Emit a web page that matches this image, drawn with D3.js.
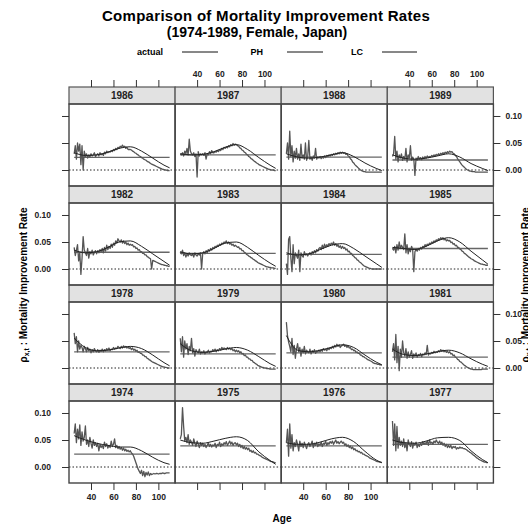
<!DOCTYPE html>
<html><head><meta charset="utf-8">
<script src="https://cdn.jsdelivr.net/npm/d3@7"></script>
<style>
body{margin:0;background:#fff;}
svg{display:block;font-family:"Liberation Sans",Arial,sans-serif;}
</style></head>
<body>
<svg id="c" width="528" height="530"></svg>
<script>
// ---------- DATA ----------
const years = [1974,1975,1976,1977,1978,1979,1980,1981,1982,1983,1984,1985,1986,1987,1988,1989];
const ages = d3.range(25, 111); // ages 25..110
const ageTicks = [40, 60, 80, 100];
const rateTicks = [0.00, 0.05, 0.10];
const rateTickLabels = ["0.00", "0.05", "0.10"];
// PH: constant improvement rate per year
const ph = [0.024,0.039,0.039,0.042, 0.030,0.026,0.028,0.020, 0.031,0.029,0.027,0.038, 0.0235,0.028,0.024,0.0185];
// LC: improvement rate at knot ages (per mille)
const lcAges = [25,35,45,55,65,75,85,95,105,110];
const lc1974 = [58,50,44,40,37,37,30,18,8,5];
const lc1975 = [50,45,44,48,53,56,49,28,12,5];
const lc1976 = [45,42,42,46,52,55,47,29,13,8];
const lc1977 = [50,45,44,48,54,55,49,30,14,8];
const lc1978 = [55,38,32,33,37,40,36,24,10,4];
const lc1979 = [45,32,29,31,35,38,33,21,8,3];
const lc1980 = [60,33,30,33,38,43,38,24,11,6];
const lc1981 = [35,25,23,26,30,33,28,17,7,3];
const lc1982 = [35,30,32,40,50,52,42,28,14,7];
const lc1983 = [32,28,30,38,48,50,40,25,11,5];
const lc1984 = [30,26,28,36,44,47,38,24,10,3];
const lc1985 = [40,38,36,42,52,58,50,33,17,9];
const lc1986 = [32,27,28,33,40,43,35,22,9,4];
const lc1987 = [30,28,29,34,42,47,38,23,9,3];
const lc1988 = [30,24,22,24,28,32,25,13,3,-1];
const lc1989 = [28,22,20,22,26,30,24,12,3,-1];
// actual improvement rates, ages 25..110 (per mille)
const actual1974 = [62,80,45,70,52,78,40,65,48,55, 76,42,50,38,55,44,35,50,40,45, 38,44,30,42,36,40,34,46,38,43, 35,40,36,48,38,42,52,36,40,34, 38,33,36,31,35,30,33,29,31,28, 30,26,24,20,14,8,2,-4,-8,-12, -6,-16,-8,-18,-10,-15,-9,-16,-12,-14, -13,-12,-13,-12,-12,-13,-12,-12,-12,-11, -12,-12,-11,-11,-11,-11];
const actual1975 = [52,60,110,75,48,55,45,60,42,50, 46,40,52,44,38,48,42,36,45,40, 44,38,42,36,40,45,38,42,37,41, 39,44,36,42,40,46,38,43,40,45, 42,47,40,44,48,42,46,40,44,45, 41,44,38,42,36,40,34,38,33,36, 32,35,29,31,27,30,26,27,24,24, 22,21,20,18,17,16,15,14,13,12, 11,10,10,9,8,8];
const actual1976 = [45,70,20,80,35,60,30,45,38,50, 42,30,48,38,44,36,46,40,34,42, 45,38,42,48,36,44,40,46,38,43, 40,46,38,44,42,48,40,45,42,47, 44,48,42,46,50,44,47,43,46,48, 44,46,40,43,38,41,36,39,34,37, 32,34,30,31,28,29,26,27,24,24, 22,21,20,19,17,16,15,14,13,12, 11,10,10,9,9,8];
const actual1977 = [85,40,80,30,75,35,55,40,48,38, 52,36,45,30,50,42,38,47,35,44, 40,46,36,42,38,44,40,47,42,45, 43,48,40,50,44,46,42,48,45,50, 46,44,48,42,46,40,44,38,42,36, 40,36,40,34,38,36,38,33,36,34, 37,35,36,34,34,33,32,30,29,27, 26,24,22,21,19,17,16,14,13,12, 11,10,9,9,8,8];
const actual1978 = [65,45,58,30,50,35,42,38,30,40, 36,30,38,32,35,28,34,30,36,32, 30,34,29,33,31,35,30,34,32,36, 33,37,32,35,34,38,35,37,36,40, 38,36,40,37,41,38,40,37,39,36, 38,34,37,33,35,31,33,29,30,27, 27,24,24,21,21,18,17,15,14,12, 11,10,9,8,7,6,5,4,3,2, 2,1,1,0,0,0];
const actual1979 = [55,30,58,20,50,35,45,25,40,32, 55,28,36,22,34,30,28,35,26,30, 28,32,26,30,29,33,28,31,30,34, 31,35,30,34,32,36,33,38,35,37, 36,34,38,35,37,34,36,32,34,30, 33,30,32,28,30,26,27,23,24,20, 20,17,17,14,14,11,10,8,7,5, 4,3,2,1,1,0,0,-1,-1,-1, -2,-2,-2,-2,-2,-2];
const actual1980 = [85,60,48,40,30,55,25,42,18,35, 45,30,38,22,35,28,40,26,33,30, 28,35,26,32,29,34,27,31,30,33, 30,34,31,36,33,35,32,37,34,38, 36,40,37,42,39,44,40,43,38,41, 42,44,40,42,38,41,37,38,34,35, 32,33,29,30,27,27,24,24,21,21, 19,18,16,15,14,13,12,10,9,8, 8,7,7,6,6,5];
const actual1981 = [30,45,15,62,10,40,-5,35,20,50, 28,22,36,18,30,20,25,32,18,26, 22,28,20,25,23,27,21,26,24,28, 25,42,24,27,26,29,27,31,28,30, 29,32,30,34,31,33,30,32,29,31, 28,30,26,27,23,24,20,19,16,15, 12,11,9,7,5,4,2,1,0,-1, -2,-2,-3,-3,-3,-3,-3,-3,-3,-3, -2,-2,-2,-2,-2,-2];
const actual1982 = [40,25,35,45,15,30,-10,20,60,35, 30,25,38,20,32,28,35,26,30,34, 28,34,30,36,32,38,30,40,33,44, 36,42,38,46,40,48,44,52,48,56, 52,50,54,48,52,47,50,45,48,44, 46,44,45,41,42,38,39,35,36,32, 32,29,29,26,26,23,22,20,19,0, 16,15,14,13,12,11,10,9,8,8, 7,7,6,6,5,5];
const actual1983 = [32,28,35,25,30,22,28,24,30,26, 25,28,22,30,26,24,28,26,30,0, 29,32,28,34,30,36,33,38,35,40, 38,42,40,44,42,46,44,48,46,50, 48,52,47,50,46,48,44,46,42,44, 42,40,41,37,38,34,34,31,30,27, 26,24,23,21,20,18,17,15,14,12, 11,10,9,8,7,6,5,4,4,3, 3,2,2,2,1,1];
const actual1984 = [10,-10,55,60,20,-5,45,10,30,25, 20,35,-5,30,25,22,32,26,28,24, 28,30,26,32,29,34,30,36,33,38, 40,36,44,38,46,40,45,42,47,44, 48,45,50,44,47,42,45,40,43,38, 42,38,40,35,37,32,33,29,29,25, 24,21,20,17,16,13,12,10,8,6, 5,4,3,2,1,1,0,0,0,0, 0,0,0,0,0,0];
const actual1985 = [38,35,42,30,45,35,50,38,44,40, 36,65,30,45,28,38,32,42,36,-5, 32,36,33,38,35,40,37,42,40,45, 42,46,44,48,46,50,48,52,50,54, 52,56,54,58,55,58,54,56,52,54, 52,53,49,50,46,47,43,44,40,40, 37,36,33,32,29,28,26,24,22,21, 19,18,17,15,14,13,12,11,10,9, 9,8,8,7,7,7];
const actual1986 = [30,45,20,50,35,48,10,45,0,35, 25,30,22,28,24,30,26,28,32,25, 28,30,26,32,28,30,27,33,30,35, 32,34,33,36,34,38,36,40,38,42, 40,44,42,46,43,44,40,42,38,38, 38,37,35,34,32,31,29,28,26,25, 23,22,20,19,18,16,15,14,12,11, 10,9,8,7,6,5,4,3,2,1, 1,0,0,-1,-1,-1];
const actual1987 = [30,28,32,26,35,30,40,28,57,35, 30,28,32,25,30,-13,34,26,30,28, 30,27,32,20,30,28,34,30,36,32, 32,34,33,36,34,38,36,40,38,42, 40,43,41,45,43,47,45,49,46,48, 47,45,44,41,40,37,36,33,32,29, 28,25,24,21,20,18,16,15,13,12, 10,9,8,7,6,5,4,3,2,1, 1,0,0,0,-1,-1];
const actual1988 = [30,50,20,72,25,45,15,35,22,40, 20,30,18,48,22,28,20,50,18,25, 55,20,24,18,26,22,40,20,24,22, 25,21,24,22,26,23,27,25,28,26, 29,27,30,28,31,29,32,30,33,31, 33,31,32,29,30,26,25,21,19,15, 13,10,8,6,4,2,0,-1,-2,-3, -3,-4,-4,-4,-4,-4,-4,-4,-4,-4, -4,-4,-4,-4,-4,-4];
const actual1989 = [25,30,62,20,35,15,28,22,30,18, 25,20,40,15,28,22,45,18,24,20, -10,22,18,25,20,23,19,24,21,25, 22,26,23,25,24,27,25,28,26,29, 27,30,28,31,29,32,30,33,31,34, 32,35,33,34,31,30,27,25,21,18, 15,12,9,7,5,3,1,0,-1,-2, -2,-3,-3,-3,-4,-4,-4,-4,-4,-4, -4,-4,-4,-4,-4,-4];

const actualByYear = {1974:actual1974,1975:actual1975,1976:actual1976,1977:actual1977,1978:actual1978,1979:actual1979,1980:actual1980,1981:actual1981,1982:actual1982,1983:actual1983,1984:actual1984,1985:actual1985,1986:actual1986,1987:actual1987,1988:actual1988,1989:actual1989};
const lcByYear = {1974:lc1974,1975:lc1975,1976:lc1976,1977:lc1977,1978:lc1978,1979:lc1979,1980:lc1980,1981:lc1981,1982:lc1982,1983:lc1983,1984:lc1984,1985:lc1985,1986:lc1986,1987:lc1987,1988:lc1988,1989:lc1989};

// ---------- LAYOUT ----------
const svg = d3.select("#c");
const X0 = 69, colW = 106.1, Y0 = 87, rowH = 99, stripH = 17, plotH = 82;
const x = d3.scaleLinear().domain([20.4, 114.9]).range([0, colW]);
const y = d3.scaleLinear().domain([-0.0296, 0.1222]).range([plotH, 0]);
const fontTick = "8.5px";

// Title
svg.append("text").attr("x", 266).attr("y", 21).attr("text-anchor","middle")
  .attr("font-size","15px").attr("font-weight","bold").attr("letter-spacing","0.3px")
  .text("Comparison of Mortality Improvement Rates");
svg.append("text").attr("x", 257).attr("y", 37).attr("text-anchor","middle")
  .attr("font-size","14px").attr("font-weight","bold").text("(1974-1989, Female, Japan)");

// Legend
const legendItems = [
  {label:"actual", tx:163, lx1:182, lx2:218},
  {label:"PH", tx:263, lx1:287, lx2:323},
  {label:"LC", tx:363, lx1:382, lx2:417}
];
legendItems.forEach(d => {
  svg.append("text").attr("x", d.tx).attr("y", 55).attr("text-anchor","end")
    .attr("font-size","9px").attr("font-weight","bold").text(d.label);
  svg.append("line").attr("x1", d.lx1).attr("x2", d.lx2).attr("y1", 52).attr("y2", 52)
    .attr("stroke","#111").attr("stroke-width",1);
});

const defs = svg.append("defs");
const lineActual = d3.line().x(d => x(d[0])).y(d => y(d[1]));
const lineLC = d3.line().x(d => x(d[0])).y(d => y(d[1])).curve(d3.curveMonotoneX);

years.forEach((yr, i) => {
  const col = i % 4;
  const row = 3 - Math.floor(i / 4);
  const px = X0 + col * colW;
  const top = Y0 + row * rowH;
  const g = svg.append("g").attr("transform", `translate(${px},${top})`);

  // strip
  g.append("rect").attr("x",0).attr("y",0).attr("width",colW).attr("height",stripH)
    .attr("fill","#e2e2e2").attr("stroke","#555").attr("stroke-width",1.2);
  g.append("text").attr("x", colW/2).attr("y", stripH/2 + 3.5).attr("text-anchor","middle")
    .attr("font-size","10px").attr("font-weight","bold").attr("fill","#222").text(yr);

  const p = g.append("g").attr("transform", `translate(0,${stripH})`);
  const cid = "clip" + yr;
  defs.append("clipPath").attr("id", cid).append("rect").attr("width", colW).attr("height", plotH);
  const pc = p.append("g").attr("clip-path", `url(#${cid})`);

  // zero reference line
  pc.append("line").attr("x1",0).attr("x2",colW).attr("y1",y(0)).attr("y2",y(0))
    .attr("stroke","#222").attr("stroke-width",1).attr("stroke-dasharray","1.5,2");

  // PH constant line
  pc.append("path").datum([[25, ph[i]], [110, ph[i]]])
    .attr("d", lineActual).attr("fill","none").attr("stroke","#666").attr("stroke-width",1.3);

  // actual
  const act = actualByYear[yr].map((v, k) => [ages[k], v / 1000]);
  pc.append("path").datum(act).attr("d", lineActual)
    .attr("fill","none").attr("stroke","#555").attr("stroke-width",1.3).attr("stroke-linejoin","round");

  // LC
  const lc = lcByYear[yr].map((v, k) => [lcAges[k], v / 1000]);
  pc.append("path").datum(lc).attr("d", lineLC)
    .attr("fill","none").attr("stroke","#222").attr("stroke-width",1);

  // panel border
  p.append("rect").attr("width", colW).attr("height", plotH)
    .attr("fill","none").attr("stroke","#444").attr("stroke-width",1.4);

  // axes (alternating)
  const fmtAge = d3.format("d");
  if (row === 0) {
    const ax = d3.axisTop(x).tickValues(ageTicks).tickSize(7).tickPadding(3)
      .tickFormat(col % 2 === 1 ? fmtAge : () => "");
    const a = g.append("g").call(ax);
    styleAxis(a);
  }
  if (row === 3) {
    const ax = d3.axisBottom(x).tickValues(ageTicks).tickSize(7).tickPadding(4)
      .tickFormat(col % 2 === 0 ? fmtAge : () => "");
    const a = g.append("g").attr("transform", `translate(0,${stripH + plotH})`).call(ax);
    styleAxis(a);
  }
  if (col === 0) {
    const ax = d3.axisLeft(y).tickValues(rateTicks).tickSize(7).tickPadding(11)
      .tickFormat((d, k) => (row % 2 === 1 ? rateTickLabels[k] : ""));
    const a = p.append("g").call(ax);
    styleAxis(a);
  }
  if (col === 3) {
    const ax = d3.axisRight(y).tickValues(rateTicks).tickSize(7).tickPadding(5)
      .tickFormat((d, k) => (row % 2 === 0 ? rateTickLabels[k] : ""));
    const a = p.append("g").attr("transform", `translate(${colW},0)`).call(ax);
    styleAxis(a);
  }
});

function styleAxis(a) {
  a.select(".domain").remove();
  a.selectAll(".tick line").attr("stroke","#333").attr("stroke-width",1);
  a.selectAll(".tick text").attr("font-size",fontTick).attr("font-weight","bold")
    .attr("fill","#222").attr("font-family","'Liberation Sans',Arial,sans-serif");
}

// axis titles
svg.append("text").attr("x", 282).attr("y", 522).attr("text-anchor","middle")
  .attr("font-size","10px").attr("font-weight","bold").text("Age");

function yTitle(xpos) {
  const t = svg.append("text").attr("transform", `translate(${xpos},285) rotate(-90)`)
    .attr("text-anchor","middle").attr("font-size","10px").attr("font-weight","bold");
  t.append("tspan").text("\u03C1");
  t.append("tspan").attr("font-size","7px").attr("dy", 2).text("x,t");
  t.append("tspan").attr("dy", -2).text(" : Mortality Improvement Rate");
}
yTitle(27);
yTitle(529);
</script>
</body></html>
